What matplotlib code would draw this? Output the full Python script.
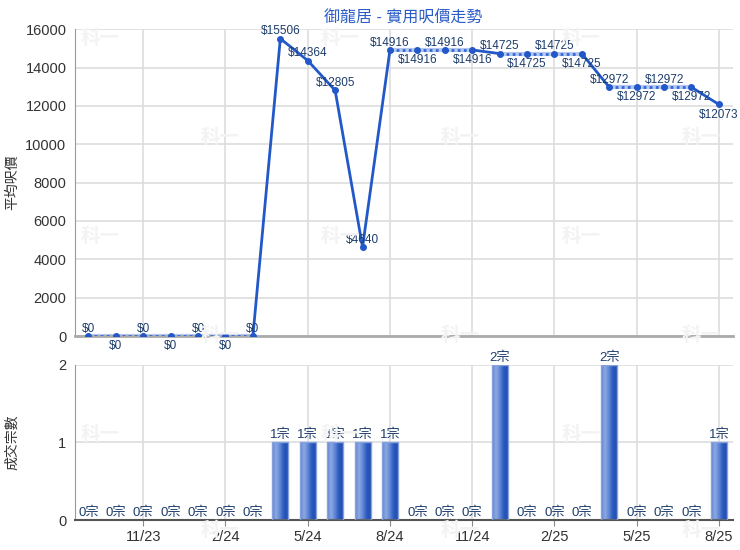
import numpy as np
import matplotlib
matplotlib.use('Agg')
import matplotlib.pyplot as plt
from matplotlib.colors import LinearSegmentedColormap

plt.rcParams['font.family'] = ['Liberation Sans', 'Noto Sans CJK TC']

# datos (mensual, 9/23 .. 8/25)
meses = ['9/23', '10/23', '11/23', '12/23', '1/24', '2/24', '3/24', '4/24',
         '5/24', '6/24', '7/24', '8/24', '9/24', '10/24', '11/24', '12/24',
         '1/25', '2/25', '3/25', '4/25', '5/25', '6/25', '7/25', '8/25']
precio = [0, 0, 0, 0, 0, 0, 0, 15506, 14364, 12805, 4640, 14916, 14916, 14916,
          14916, 14725, 14725, 14725, 14725, 12972, 12972, 12972, 12972, 12073]
casos = [0, 0, 0, 0, 0, 0, 0, 1, 1, 1, 1, 1, 0, 0, 0, 2, 0, 0, 0, 2, 0, 0, 0, 1]
etiquetas_x = ['11/23', '2/24', '5/24', '8/24', '11/24', '2/25', '5/25', '8/25']

titulo = '御龍居 - 實用呎價走勢'
color_linea = '#2358c8'
color_texto = '#1d3d6b'
color_grid = '#dddddd'

fig = plt.figure(figsize=(7.4, 5.5), dpi=100)
ax1 = fig.add_axes([0.101, 0.389, 0.889, 0.558])
ax2 = fig.add_axes([0.101, 0.0545, 0.889, 0.282])

x = np.arange(len(meses))
pos_ticks = [meses.index(m) for m in etiquetas_x]

# marca de agua
for fila, yy in enumerate([0.93, 0.75, 0.57, 0.39, 0.21, 0.035]):
    xs = [0.135, 0.46, 0.785] if fila % 2 == 0 else [0.298, 0.622, 0.947]
    for xx in xs:
        fig.text(xx, yy, '科一', color='#f3f3f3', fontsize=14, fontweight='bold',
                 ha='center', va='center', zorder=0, family=['Noto Sans CJK TC'])

for ax in (ax1, ax2):
    ax.set_facecolor('none')
    ax.set_xlim(-0.5, len(meses) - 0.5)
    ax.set_xticks(pos_ticks)
    ax.grid(True, color=color_grid, linewidth=1.2)
    ax.set_axisbelow(True)
    for s in ['top', 'right']:
        ax.spines[s].set_visible(False)
    ax.spines['left'].set_color('#999999')
    ax.tick_params(axis='y', length=0, labelsize=10.5, colors='#333333', pad=6)

# --- grafico de precios ---
ax1.set_ylim(0, 16000)
ax1.set_yticks(range(0, 16001, 2000))
ax1.set_xticklabels([])
ax1.tick_params(axis='x', length=0)
ax1.spines['bottom'].set_color('#aaaaaa')
ax1.spines['bottom'].set_linewidth(2)

for i in range(1, len(x)):
    if casos[i] > 0:
        ax1.plot(x[i-1:i+1], precio[i-1:i+1], color=color_linea, lw=2, zorder=3,
                 solid_capstyle='round')
    else:
        ax1.plot(x[i-1:i+1], precio[i-1:i+1], color='#b3c7f0', lw=3, zorder=2)
        ax1.plot(x[i-1:i+1], precio[i-1:i+1], color='#3268d8', lw=2, ls=(0, (1, 1.2)),
                 zorder=3)
ax1.plot(x, precio, 'o', color=color_linea, ms=4, zorder=4)

# etiquetas: alternan dentro de cada tramo de valores iguales
arriba = []
for i, v in enumerate(precio):
    if i > 0 and v == precio[i-1]:
        arriba.append(not arriba[-1])
    else:
        arriba.append(True)
arriba[-1] = False
for i, v in enumerate(precio):
    if arriba[i]:
        ax1.annotate(f'${v}', (x[i], v), xytext=(0, 1), textcoords='offset points',
                     ha='center', va='bottom', fontsize=8.5, color=color_texto, zorder=5)
    else:
        ax1.annotate(f'${v}', (x[i], v), xytext=(0, -3), textcoords='offset points',
                     ha='center', va='top', fontsize=8.5, color=color_texto, zorder=5)

ax1.set_ylabel('平均呎價', fontsize=10, color='#333333')
ax1.yaxis.set_label_coords(-0.085, 0.5)
ax1.set_title(titulo, color='#2a5cc8', fontsize=11.5, pad=5)

# --- grafico de transacciones ---
ax2.set_ylim(0, 2)
ax2.set_yticks([0, 1, 2])
ax2.set_xticklabels(etiquetas_x)
ax2.tick_params(axis='x', length=4, color='#888888', labelsize=10.5, colors='#333333')
ax2.spines['bottom'].set_color('#555555')
ax2.spines['bottom'].set_linewidth(1.5)

cmap = LinearSegmentedColormap.from_list('barra', ['#5b82d0', '#8fa9e2', '#5e86d6', '#2a58bc', '#2350b4'])
grad = np.linspace(0, 1, 64).reshape(1, -1)
ancho = 0.58
for i, c in enumerate(casos):
    if c > 0:
        ax2.imshow(grad, cmap=cmap, aspect='auto', zorder=2,
                   extent=[x[i] - ancho / 2, x[i] + ancho / 2, 0, c])
        ax2.bar(x[i], c, width=ancho, facecolor='none', edgecolor='#86a3e0', lw=1, zorder=3)
    ax2.annotate(f'{c}宗', (x[i], c), xytext=(0, 1), textcoords='offset points',
                 ha='center', va='bottom', fontsize=9.5, color=color_texto, zorder=5)
ax2.set_xlim(-0.5, len(meses) - 0.5)
ax2.set_ylim(0, 2)
ax2.set_ylabel('成交宗數', fontsize=10, color='#333333')
ax2.yaxis.set_label_coords(-0.085, 0.5)

fig.savefig('out.png', dpi=100)
